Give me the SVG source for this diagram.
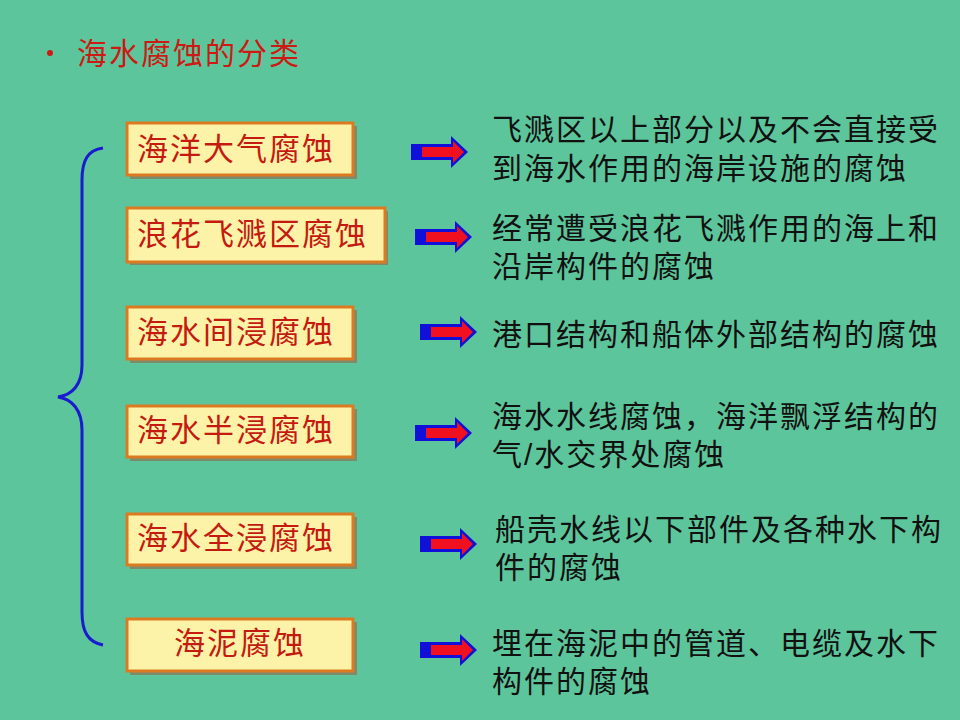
<svg xmlns="http://www.w3.org/2000/svg" xmlns:xlink="http://www.w3.org/1999/xlink" width="960" height="720" viewBox="0 0 960 720">
<style>
.box{fill:#fcf3a8;stroke:#dc7a22;stroke-width:3}
.shadow{fill:#7f8a6a}
.lbl{font-family:"Noto Sans CJK SC","Noto Sans",sans-serif;font-size:31px;fill:#c41a10;letter-spacing:2px}
.desc{font-family:"Liberation Sans","Noto Sans CJK SC",sans-serif;font-size:30px;fill:#111;letter-spacing:2px}
.title{font-family:"Noto Sans CJK SC","Noto Sans",sans-serif;font-size:30px;fill:#cc1a14;letter-spacing:2px}
</style>
<defs>
<g id="arrow">
<path d="M0,-8 H40 V-16 L57,0 L40,16 V8 H0 Z" fill="#1010d8"/>
<path d="M11,-5 H42 V-11 L53,0 L42,11 V5 H11 Z" fill="#f01020"/>
</g>
</defs>
<rect width="960" height="720" fill="#5dc59b"/>
<g id="title">
<circle cx="50" cy="53" r="3" fill="#cc1a14"/>
<text class="title" x="77" y="64">海水腐蚀的分类</text>
</g>
<g id="connectors">
<path d="M103,148 C88,150 82,160 82,180 V365 C82,385 72,395 58,397 C72,399 82,410 82,430 V612 C82,632 88,642 103,645" fill="none" stroke="#1a1ad0" stroke-width="3"/>
<use xlink:href="#arrow" x="411" y="152"/>
<use xlink:href="#arrow" x="415" y="237"/>
<use xlink:href="#arrow" x="420" y="332"/>
<use xlink:href="#arrow" x="415" y="433"/>
<use xlink:href="#arrow" x="420" y="544"/>
<use xlink:href="#arrow" x="420" y="650"/>
</g>
<g id="node1">
<rect class="shadow" x="130" y="126" width="227" height="53"/>
<rect class="box" x="127" y="123" width="226" height="52"/>
<text class="lbl" x="137" y="160">海洋大气腐蚀</text>
</g>
<g id="node2">
<rect class="shadow" x="130" y="211" width="258" height="54"/>
<rect class="box" x="127" y="208" width="258" height="54"/>
<text class="lbl" x="137" y="245">浪花飞溅区腐蚀</text>
</g>
<g id="node3">
<rect class="shadow" x="130" y="310" width="227" height="53"/>
<rect class="box" x="127" y="307" width="226" height="52"/>
<text class="lbl" x="137" y="343">海水间浸腐蚀</text>
</g>
<g id="node4">
<rect class="shadow" x="130" y="409" width="227" height="52"/>
<rect class="box" x="127" y="406" width="226" height="51"/>
<text class="lbl" x="137" y="441">海水半浸腐蚀</text>
</g>
<g id="node5">
<rect class="shadow" x="130" y="517" width="227" height="52"/>
<rect class="box" x="127" y="514" width="226" height="51"/>
<text class="lbl" x="137" y="549">海水全浸腐蚀</text>
</g>
<g id="node6">
<rect class="shadow" x="130" y="622" width="227" height="53"/>
<rect class="box" x="127" y="619" width="226" height="52"/>
<text class="lbl" x="240" y="654" text-anchor="middle">海泥腐蚀</text>
</g>
<g id="desc1">
<text class="desc"><tspan x="492" y="140">飞溅区以上部分以及不会直接受</tspan><tspan x="492" y="179">到海水作用的海岸设施的腐蚀</tspan></text>
</g>
<g id="desc2">
<text class="desc"><tspan x="492" y="239">经常遭受浪花飞溅作用的海上和</tspan><tspan x="492" y="277">沿岸构件的腐蚀</tspan></text>
</g>
<g id="desc3">
<text class="desc" x="492" y="345">港口结构和船体外部结构的腐蚀</text>
</g>
<g id="desc4">
<text class="desc"><tspan x="492" y="427">海水水线腐蚀，海洋飘浮结构的</tspan><tspan x="492" y="465">气/水交界处腐蚀</tspan></text>
</g>
<g id="desc5">
<text class="desc"><tspan x="495" y="540">船壳水线以下部件及各种水下构</tspan><tspan x="495" y="578">件的腐蚀</tspan></text>
</g>
<g id="desc6">
<text class="desc"><tspan x="492" y="654">埋在海泥中的管道、电缆及水下</tspan><tspan x="492" y="692">构件的腐蚀</tspan></text>
</g>
</svg>
